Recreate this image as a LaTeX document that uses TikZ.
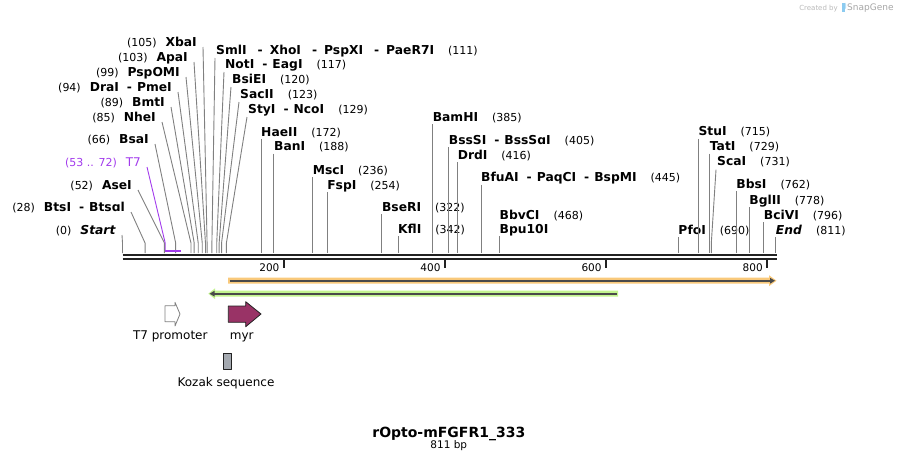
\documentclass[tikz,border=0pt]{standalone}
\usepackage{fontspec}
\setmainfont{DejaVu Sans}
\usetikzlibrary{arrows.meta}
\definecolor{cutgray}{HTML}{808080}
\definecolor{seqblack}{HTML}{222222}
\definecolor{orangehalo}{HTML}{F9C97B}
\definecolor{greenhalo}{HTML}{C3F48F}
\definecolor{featdark}{HTML}{4A4A4A}
\definecolor{myrred}{HTML}{993366}
\definecolor{kozakgray}{HTML}{A4A9B0}
\definecolor{primerpurple}{HTML}{A23BEC}
\definecolor{logoblue}{HTML}{8CCBF0}
\newcommand{\namefont}{\fontsize{12.3}{14}\selectfont\bfseries}
\newcommand{\numfont}{\fontsize{11}{13}\selectfont\mdseries}
\newcommand{\smallnum}{\fontsize{10.5}{12}\selectfont\mdseries}
\newcommand{\cutsep}{\hspace{8pt}-\hspace{5pt}}
\newcommand{\widesep}{\hspace{11pt}-\hspace{7pt}}
\tikzset{
  every picture/.style={
    line join=round,
  },
  cutline/.style={cutgray, line width=0.9pt},
  sitelabel/.style={font=\namefont, inner sep=0pt},
  featlabel/.style={font=\fontsize{12}{14}\selectfont, inner sep=0pt},
  ticklabel/.style={font=\smallnum, inner sep=0pt},
}

\begin{document}
\begin{tikzpicture}[x=1pt, y=-1pt]
    \useasboundingbox (0,0) rectangle (900,464);

    % Sites with the label on the left
    \foreach \bp/\ly/\lx/\num/\name [count=\i] in {
        0/234/116/0/\textit{Start},
        28/211/125/28/{BtsI\cutsep Btsɑl},
        52/189/132/52/AseI,
        66/143/149/66/BsaI,
        85/121/156/85/NheI,
        89/106/165/89/BmtI,
        94/91/172/94/{DraI\cutsep PmeI},
        99/76/180/99/PspOMI,
        103/61/188/103/ApaI,
        105/46/197/105/XbaI} {
        \pgfmathsetmacro\sx{122.5+0.8055*\bp}
        \node[sitelabel, anchor=base east] (L\i) at (\lx,\ly) {{\numfont(\num)}\hspace{9pt}\name};
        \coordinate (Lk\i) at (\sx,243);
        \coordinate (Ls\i) at (\sx,253);
        \draw[cutline] ([xshift=6pt, yshift=-1pt]L\i.base east) -- (Lk\i) -- (Ls\i);
    }

    % Sites with the label on the right, slanted
    \foreach \bp/\ly/\lx/\name/\num [count=\i] in {
        111/54/216/{SmlI\widesep XhoI\widesep PspXI\widesep PaeR7I}/111,
        117/68/225/{NotI\cutsep EagI}/117,
        120/83/232/BsiEI/120,
        123/98/240/SacII/123,
        129/113/248/{StyI\cutsep NcoI}/129,
        731/165.7/717/ScaI/731} {
        \pgfmathsetmacro\sx{122.5+0.8055*\bp}
        \node[sitelabel, anchor=base west] (R\i) at (\lx,\ly) {\name\hspace{14pt}{\numfont(\num)}};
        \coordinate (Rk\i) at (\sx,243);
        \coordinate (Rs\i) at (\sx,253);
        \draw[cutline] ([xshift=-1pt, yshift=-4pt]R\i.base west) -- (Rk\i) -- (Rs\i);
    }

    % Sites with the label straight above
    \foreach \bp/\ly/\name/\num [count=\i] in {
        172/136/HaeII/172,
        188/150.7/BanI/188,
        236/174/MscI/236,
        254/189/FspI/254,
        322/211/BseRI/322,
        342/233.3/KflI/342,
        385/121/BamHI/385,
        405/144.3/{BssSI\cutsep BssSɑI}/405,
        416/159.3/DrdI/416,
        445/181.7/{BfuAI\cutsep PaqCI\cutsep BspMI}/445,
        690/234/PfoI/690,
        715/135.7/StuI/715,
        729/150.7/TatI/729,
        762/188.3/BbsI/762,
        778/204/BglII/778,
        796/219/BciVI/796,
        811/234/\textit{End}/811} {
        \pgfmathsetmacro\sx{122.5+0.8055*\bp}
        \node[sitelabel, anchor=base west] (V\i) at (\sx,\ly) {\name\hspace{14pt}{\numfont(\num)}};
        \coordinate (Vs\i) at (\sx,253);
        \draw[cutline] ([yshift=-3pt]V\i.base west) -- (Vs\i);
    }

    % BbvCI and Bpu10I share one site
    \node[sitelabel, anchor=base west] (bbv) at (499.5,219) {BbvCI\hspace{14pt}{\numfont(468)}};
    \node[sitelabel, anchor=base west] (bpu) at (499.5,233.3) {Bpu10I};
    \coordinate (bpus) at (499.5,253);
    \draw[cutline] ([yshift=-3pt]bpu.base west) -- (bpus);

    % T7 primer
    \node[font=\fontsize{12}{14}\selectfont, text=primerpurple, anchor=base east, inner sep=0pt]
        (t7p) at (141,166) {{\numfont(53 .. 72)}\hspace{9pt}T7};
    \coordinate (t7k) at (165.2,243);
    \coordinate (t7s) at (165.2,250.5);
    \coordinate (t7e) at (180.5,250.5);
    \draw[primerpurple, line width=0.9pt] ([xshift=6pt, yshift=-1pt]t7p.base east) -- (t7k) -- (t7s);
    \draw[primerpurple, line width=2pt] (t7s) -- (t7e);

    % Backbone
    \draw[seqblack, line width=2.5pt] (122.5,254.75) -- (776.5,254.75);
    \draw[seqblack, line width=2pt] (122.5,259) -- (776.5,259);

    % Ticks
    \foreach \t in {200,400,600,800} {
        \pgfmathsetmacro\tx{122.5+0.8055*\t}
        \draw[seqblack, line width=2pt] (\tx,260) -- (\tx,268);
        \node[ticklabel, anchor=base east] (tick\t) at (\tx-4,271) {\t};
    }

    % Feature bars
    \fill[orangehalo] (228,277.7) -- (769,277.7) -- (769,275.2) -- (776.5,280.7)
        -- (769,286.2) -- (769,283.7) -- (228,283.7) -- cycle;
    \draw[featdark, line width=2pt, -{Triangle[length=5pt, width=5.5pt]}] (229.5,280.7) -- (775,280.7);
    \fill[greenhalo] (618,290.7) -- (215,290.7) -- (215,288.3) -- (208.3,293.7)
        -- (215,299.1) -- (215,296.7) -- (618,296.7) -- cycle;
    \draw[featdark, line width=2pt, -{Triangle[length=5pt, width=5.5pt]}] (616.5,293.7) -- (209.5,293.7);

    % Features
    \draw[cutgray, fill=white, line width=0.8pt] (165,305.7) -- (175,305.7) -- (175,302.3)
        -- (180,314) -- (175,326) -- (175,321.7) -- (165,321.7) -- cycle;
    \node[featlabel, anchor=base] (t7lbl) at (170.3,339.3) {T7 promoter};
    \draw[seqblack, fill=myrred, line width=0.8pt] (228.3,306) -- (245.7,306) -- (245.7,301.7)
        -- (261,314) -- (245.7,326.7) -- (245.7,322.3) -- (228.3,322.3) -- cycle;
    \node[featlabel, anchor=base] (myrlbl) at (241.7,339.3) {myr};
    \draw[seqblack, fill=kozakgray, line width=0.8pt] (223.3,353.3) rectangle (231.7,369.3);
    \node[featlabel, anchor=base] (kozlbl) at (226,386.5) {Kozak sequence};

    % Title
    \node[font=\fontsize{14}{16}\selectfont\bfseries, anchor=base, inner sep=0pt] (title) at (448.8,437) {rOpto-mFGFR1\_333};
    \node[font=\smallnum, anchor=base, inner sep=0pt] (length) at (448.8,448.5) {811 bp};

    % SnapGene mark
    \node[font=\fontsize{7}{8}\selectfont, text=gray!55, anchor=base east, inner sep=0pt] (made) at (838,10) {Created by};
    \fill[logoblue] (841.7,2.5) rectangle (845,12);
    \fill[logoblue!60] (845,2.5) -- (846,4) -- (846,8) -- (845,9) -- cycle;
    \node[font=\fontsize{9}{10}\selectfont, text=gray!70, anchor=base west, inner sep=0pt] (sg) at (847,10.5) {SnapGene};
\end{tikzpicture}
\end{document}
